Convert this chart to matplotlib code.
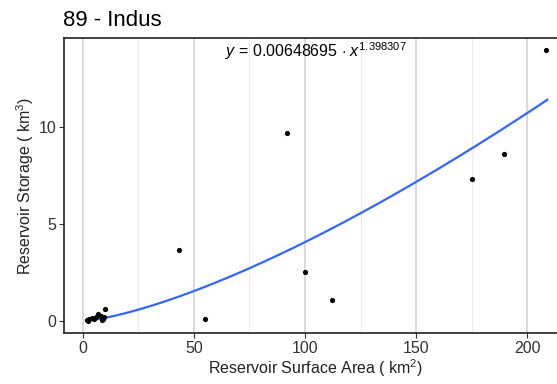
import matplotlib
matplotlib.use("Agg")
import matplotlib.pyplot as plt
import numpy as np

plt.rcParams['font.family'] = ['Liberation Sans', 'DejaVu Sans']
plt.rcParams['mathtext.fontset'] = 'custom'
plt.rcParams['mathtext.rm'] = 'Liberation Sans'
plt.rcParams['mathtext.it'] = 'Liberation Sans:italic'

# Data
area = [2.0, 2.5, 3.0, 4.0, 5.0, 6.0, 7.0, 8.0, 8.5, 9.0, 9.5, 10.1,
        43.1, 55.1, 91.9, 99.9, 112.3, 175.1, 189.3, 208.3]
storage = [0.05, 0.0, 0.08, 0.15, 0.1, 0.2, 0.35, 0.25, 0.05, 0.1, 0.2, 0.62,
           3.67, 0.12, 9.66, 2.50, 1.06, 7.29, 8.58, 13.94]
coef_a = 0.00648695
coef_b = 1.398307
fit_range = [1.5, 209.0]
x_ticks = [0, 50, 100, 150, 200]
x_minor = [25, 75, 125, 175]
y_ticks = [0, 5, 10]

W, H = 557, 384
fig = plt.figure(figsize=(W / 100, H / 100), dpi=100)
left, right, top, bottom = 64, 570, 38, 333
ax = fig.add_axes([left / W, 1 - bottom / H, (right - left) / W, (bottom - top) / H])

ax.set_xlim(-8.46, 219.2)
ax.set_ylim(-0.618, 14.565)

for xm in x_minor:
    ax.axvline(xm, color='#ECECEC', lw=0.8, zorder=0)
for xM in x_ticks:
    ax.axvline(xM, color='#CFCFCF', lw=1.1, zorder=0)

xf = np.linspace(fit_range[0], fit_range[1], 300)
ax.plot(xf, coef_a * xf ** coef_b, color='#3366FF', lw=1.6, zorder=2)
ax.scatter(area, storage, s=14, color='black', zorder=3, linewidths=0)

ax.text(105, 13.9, r'$y$ = 0.00648695 $\cdot$ $x^{1.398307}$', ha='center', va='center',
        fontsize=11.5, color='black')

ax.set_xticks(x_ticks)
ax.set_yticks(y_ticks)
ax.tick_params(axis='both', direction='out', length=3.5, width=0.8, color='#333333',
               labelsize=11.5, labelcolor='#333333', pad=2)
for s in ax.spines.values():
    s.set_linewidth(1.2)
    s.set_color('#222222')

fig.text(63 / W, 1 - 26 / H, '89 - Indus', fontsize=16, va='baseline', ha='left')
fig.text(316 / W, 1 - 368 / H, r'Reservoir Surface Area ( km$^2$)', fontsize=11.5,
         ha='center', va='center', color='#222222')
fig.text(25 / W, 1 - 186 / H, r'Reservoir Storage ( km$^3$)', fontsize=11.5,
         ha='center', va='center', rotation=90, color='#222222')

fig.savefig('out.png', dpi=100)
